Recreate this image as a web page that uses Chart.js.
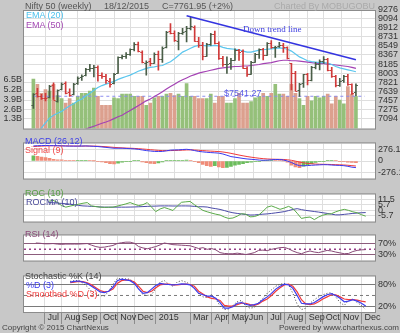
<!DOCTYPE html>
<html>
<head>
<meta charset="utf-8">
<script src="https://cdn.jsdelivr.net/npm/chart.js@4.4.0/dist/chart.umd.min.js"></script>
<style>
  body { margin: 0; background: #c8c8c8; }
  #wrap { position: relative; width: 400px; height: 333px; overflow: hidden; font-family: "Liberation Sans", Arial, sans-serif; }
  canvas { position: absolute; left: 0; }
  .t { position: absolute; font-size: 9px; line-height: 10px; white-space: nowrap; z-index: 5; }
</style>
</head>
<body>
<div id="wrap">
  <canvas id="cMain" width="400" height="137" style="top:0"></canvas>
  <canvas id="cMacd" width="400" height="52" style="top:135px"></canvas>
  <canvas id="cRoc" width="400" height="44" style="top:186px"></canvas>
  <canvas id="cRsi" width="400" height="42" style="top:227px"></canvas>
  <canvas id="cSto" width="400" height="65" style="top:268px"></canvas>

  <div class="t" style="left:25px;top:1px;color:#555">Nifty 50 (weekly)</div>
  <div class="t" style="left:104px;top:1px;color:#555">18/12/2015</div>
  <div class="t" style="left:162px;top:1px;color:#555">C=7761.95 (+2%)</div>
  <div class="t" style="left:274px;top:1px;color:#aaa">Charted By MOBUGOBU</div>
  <div class="t" style="left:26px;top:10px;color:#4cc0ec">EMA (20)</div>
  <div class="t" style="left:26px;top:20px;color:#a348b3">EMA (50)</div>
  <div class="t" style="left:243px;top:24px;color:#4040e0;font-family:'Liberation Serif',serif">Down trend line</div>
  <div class="t" style="left:224px;top:88px;color:#5858e8">$7541.27</div>
  <div class="t" style="left:25px;top:136px;color:#3c3ce8">MACD (26,12)</div>
  <div class="t" style="left:25px;top:145px;color:#f04848">Signal (9)</div>
  <div class="t" style="left:25px;top:188px;color:#5aa048">ROC (10)</div>
  <div class="t" style="left:26px;top:197px;color:#4a4a9a">ROCMA (10)</div>
  <div class="t" style="left:25px;top:229px;color:#8a4a78">RSI (14)</div>
  <div class="t" style="left:25px;top:271px;color:#444">Stochastic %K (14)</div>
  <div class="t" style="left:26px;top:280px;color:#3c3cf0">%D (3)</div>
  <div class="t" style="left:26px;top:289px;color:#f03c3c">Smoothed %D (3)</div>
  <div class="t" style="left:2px;top:323px;color:#444;font-size:8px">Copyright © 2015 ChartNexus</div>
  <div class="t" style="right:1px;top:323px;color:#444;font-size:8px">Powered by www.chartnexus.com</div>
</div>
<script>
// weekly bars, index 0 = week of 2 Jun 2014, index 80 = week of 14 Dec 2015
const opens = [7360,7600,7540,7510,7520,7760,7440,7680,7800,7620,7580,7800,7920,7960,8090,8100,8130,7970,7950,7850,
  7800,8010,8330,8340,8390,8480,8590,8430,8200,8240,8210,8390,8290,8520,8840,8800,8650,8810,8840,8910,
  8930,8650,8570,8350,8590,8790,8600,8300,8190,8200,8270,8460,8440,8110,7990,8230,8380,8490,8370,8610,
  8520,8540,8560,8520,8200,8000,7660,7800,7980,7870,8120,8190,8240,8290,8060,7950,7770,7860,7950,7780,7620];
const highs = [7593,7700,7580,7600,7760,7808,7670,7809,7830,7690,7800,7930,7968,8100,8180,8160,8150,8010,7980,7900,
  8000,8330,8365,8415,8490,8617,8624,8450,8250,8300,8410,8445,8530,8840,8996,8850,8820,8900,8940,9119,
  8950,8720,8620,8600,8800,8845,8630,8340,8330,8300,8490,8480,8470,8130,8240,8400,8490,8500,8615,8655,
  8540,8621,8600,8530,8200,8040,7800,7980,8000,8140,8220,8270,8336,8300,8120,7960,7900,7960,7980,7790,7790];
const lows = [7300,7525,7480,7450,7510,7480,7422,7670,7590,7540,7570,7780,7860,7950,8040,7930,7841,7900,7800,7723,
  7790,8000,8290,8300,8360,8450,8430,8210,7961,8150,8200,8065,8220,8510,8790,8640,8470,8780,8630,8870,
  8640,8520,8270,8340,8560,8590,8280,8140,7997,8080,8260,8260,8100,7940,7980,8220,8300,8270,8360,8500,
  8320,8520,8420,8290,7667,7650,7539,7720,7770,7850,8090,8070,8200,8050,7920,7730,7740,7820,7760,7580,7551];
const closes = [7583,7542,7511,7508,7751,7460,7663,7790,7602,7569,7792,7913,7954,8086,8105,8121,7968,7945,7859,7779,
  7996,8322,8337,8390,8477,8588,8438,8224,8225,8200,8395,8284,8513,8835,8808,8661,8805,8833,8901,8937,
  8647,8570,8342,8586,8780,8606,8305,8181,8191,8263,8458,8434,8114,7983,8225,8381,8485,8361,8610,8521,
  8533,8564,8518,8299,8001,7655,7789,7982,7868,8119,8189,8238,8295,8065,7954,7762,7856,7942,7781,7610,7762];
const volumes = [6.6,5.9,4.7,5.2,5.0,5.9,4.4,4.0,3.4,4.0,3.4,4.3,4.7,4.7,5.0,5.4,4.3,3.1,3.1,3.1,
  4.1,4.0,4.6,4.6,4.6,4.3,4.3,4.3,3.1,3.4,4.1,4.3,4.3,4.6,4.7,4.4,4.6,4.3,6.0,4.3,
  4.3,4.0,4.0,4.0,4.6,3.4,4.3,4.3,3.4,3.4,4.0,4.7,3.4,3.4,3.6,4.1,4.3,4.7,4.3,4.7,
  5.9,4.6,4.6,4.3,5.9,4.7,4.0,3.1,4.3,3.7,4.3,4.1,4.3,4.6,3.3,4.3,3.8,3.3,5.6,4.6,4.3];
const ema20 = [6600,6800,6910,7008,7104,7160,7200,7238,7295,7353,7391,7449,7487,7545,7602,7660,7717,7755,7783,7812,
  7840,7879,7908,7937,7965,8003,8042,8070,8099,8118,8128,8147,8156,8195,8233,8290,8357,8424,8463,8501,
  8539,8558,8558,8549,8549,8558,8549,8520,8501,8491,8482,8472,8444,8424,8424,8444,8463,8472,8482,8491,
  8501,8510,8501,8482,8444,8386,8329,8290,8252,8233,8223,8214,8214,8204,8176,8137,8109,8090,8070,8051,8032];
const ema50 = [null,null,null,null,null,null,null,null,null,null,null,null,6850,6885,6913,6942,6971,7000,7027,7056,
  7094,7132,7161,7209,7257,7304,7352,7400,7449,7487,7535,7583,7630,7688,7736,7783,7831,7870,7908,7946,
  7975,8003,8023,8042,8061,8080,8099,8109,8118,8128,8137,8137,8147,8147,8156,8166,8176,8195,8204,8214,
  8233,8252,8262,8262,8252,8252,8243,8233,8223,8214,8204,8195,8195,8185,8176,8166,8156,8147,8137,8118,8099];
const supportLevel = 7541.27;
const trendX = [38, 80];
const trendY = [9150, 8270];

const macdLine = [355,360,362,365,362,360,358,355,352,350,350,350,352,355,350,345,340,330,320,310,
  300,300,300,295,290,285,275,260,245,235,225,224,225,240,255,260,262,270,275,265,
  245,225,215,205,198,192,185,165,135,104,90,75,60,48,40,32,22,17,20,28,
  35,35,25,0,-35,-80,-110,-112,-108,-100,-95,-90,-86,-88,-95,-100,-104,-110,-125,-145,-155];
const macdSignal = [340,345,350,355,358,360,360,358,356,354,352,351,351,352,352,350,347,342,336,328,
  320,314,309,304,300,296,290,283,275,266,258,250,245,243,245,248,251,255,260,262,
  258,252,245,238,232,227,222,212,198,180,160,140,122,105,90,77,65,55,48,43,
  41,39,36,29,16,-3,-25,-43,-57,-66,-72,-76,-78,-80,-83,-87,-90,-94,-100,-109,-118];
const macdHist = [120,108,95,78,60,40,30,25,15,8,5,6,8,10,8,3,-5,-20,-40,-60,
  -70,-50,-25,-10,-5,5,8,-20,-40,-55,-60,-45,-20,5,10,15,15,18,20,10,
  -10,-40,-80,-110,-125,-110,-140,-155,-150,-130,-100,-80,-60,-40,-25,-15,-10,5,8,10,
  8,5,2,-30,-100,-140,-155,-120,-90,-60,-35,-15,-5,5,10,5,-8,-15,-25,-35,-40];

const roc = [null,null,null,null,null,null,9.5,10.6,8.5,5,3.4,4.5,5.5,6.5,7.5,8.2,4.7,4,3.4,3.2,
  3.3,3.4,4.5,5.6,6.8,8.2,6.5,5,6,8.2,3.5,-1.3,1.5,3,1.5,-0.1,4.5,8.5,9,9.4,
  6,3,0,-1.5,-2.8,-4,-4.9,-7,-8.5,-8,-6.1,-3.5,-4,-6.8,-6.5,-5,-1,3.4,4.7,3,
  1.1,2.5,4.2,2,-3,-8.5,-7.5,-7,-9.7,-7,-5,-4,-3.5,-1.5,0,1.1,0,-1.5,-2.5,-4.5,-6.1];
const rocMa = [null,null,null,null,null,null,8.2,8.0,7.6,7.3,7.0,6.5,6.0,5.2,4.7,4.5,4.2,4.0,3.6,3.4,
  3.4,3.4,3.4,3.4,3.4,3.5,3.6,3.8,4.0,4.2,4.4,4.5,4.7,4.7,4.7,4.6,4.6,4.7,4.7,4.6,
  4.2,3.8,3.8,3.5,2.5,1.8,1.0,-0.2,-1.5,-2.5,-3.2,-3.8,-4.3,-4.9,-4.8,-4.4,-4.0,-3.7,-3.2,-2.6,
  -2.0,-1.3,-0.2,1.0,1.8,0.8,0,-0.6,-1.2,-1.8,-2.5,-3.2,-4.0,-4.7,-4.7,-4.2,-3.7,-3.2,-2.8,-2.5,-2.3];

const rsi = [null,null,null,73,72,70,70,71,69,68,69,69,69,69,70,71,65,60,57,58,
  61,64,71,74,76,76,72,60,55,52,56,60,66,73,70,67,66,65,64,63,
  58,53,56,50,53,48,38,35,34,34,36,34,31,34,38,46,47,45,50,53,
  56,57,52,44,38,34,40,44,40,38,42,46,44,40,37,34,35,42,46,48,49];

const stochK = [null,null,null,null,null,null,null,null,null,null,null,90,92,92,85,75,62,54,50,48,
  62,82,98,97,97,96,86,70,52,50,52,70,88,92,82,76,88,92,88,82,
  70,55,46,44,52,40,20,10,12,22,32,36,20,14,16,30,42,56,66,76,
  82,84,80,56,25,10,14,28,38,46,52,56,58,46,30,22,36,40,30,22,10];
const stochD = [null,null,null,null,null,null,null,null,null,null,null,88,90,91,88,84,76,68,60,58,
  62,74,92,96,94,92,84,68,56,58,68,78,84,82,81,80,81,83,82,80,
  70,56,52,48,48,42,30,14,14,18,28,30,25,22,24,28,38,46,56,68,
  76,82,80,70,50,28,26,26,30,38,46,52,55,50,42,32,34,38,34,28,20];
const stochSD = [null,null,null,null,null,null,null,null,null,null,null,86,88,90,89,86,80,72,64,60,
  62,68,84,92,94,93,88,76,62,58,62,72,80,82,82,80,80,81,82,81,
  76,62,54,46,42,40,36,22,20,20,24,28,28,24,22,26,34,40,50,62,
  72,80,82,76,60,38,26,24,26,32,40,46,52,52,46,40,38,38,37,34,32];

// axis labels
const monthIdx = [5, 9, 13, 18, 22, 26, 31, 39, 44, 48, 52, 57, 61, 66, 70, 74, 79];
const monthLabels = ["Jul","Aug","Sep","Oct","Nov","Dec","2015","Mar","Apr","May","Jun","Jul","Aug","Sep","Oct","Nov","Dec"];
const priceTicks = [9276, 9094, 8912, 8731, 8549, 8367, 8185, 8003, 7821, 7639, 7457, 7275, 7094];
const volTicks = [1.3, 2.6, 3.9, 5.2, 6.5];
const macdTicks = [-276.1, 0, 276.1];
const rocTicks = [-5.7, 0, 5.7, 11.5];
const rsiTicks = [30, 70];
const stochTicks = [20, 80];

const X_MIN = 0.23, X_MAX = 82.17;
const UP = '#4a5e48', DOWN = '#d03a3a';
const VUP = '#95c07a', VDOWN = '#dca08e';
const GRID = '#dedede';

Chart.defaults.font.family = '"Liberation Sans", Arial, sans-serif';
Chart.defaults.font.size = 9;
Chart.defaults.color = '#333';
Chart.defaults.animation = false;
Chart.defaults.events = [];
Chart.defaults.plugins.legend.display = false;
Chart.defaults.plugins.tooltip.enabled = false;

const pts = arr => arr.map((v, i) => ({ x: i, y: v })).filter(p => p.y !== null);
const flat = v => [{ x: X_MIN, y: v }, { x: X_MAX, y: v }];

const panelBg = {
  id: 'panelBg',
  beforeDraw(chart) {
    const { ctx, chartArea: a } = chart;
    ctx.save();
    ctx.fillStyle = '#ffffff';
    ctx.fillRect(a.left, a.top, a.width, a.height);
    ctx.restore();
  },
  afterDraw(chart) {
    const { ctx, chartArea: a } = chart;
    ctx.save();
    ctx.strokeStyle = '#8c8c8c';
    ctx.lineWidth = 1;
    ctx.strokeRect(a.left - 0.5, a.top - 0.5, a.width + 1, a.height + 1);
    ctx.restore();
  }
};

// open tick on the left, close tick on the right of each weekly bar
const ohlcTicks = {
  id: 'ohlcTicks',
  afterDatasetsDraw(chart) {
    const { ctx, chartArea: a, scales } = chart;
    ctx.save();
    ctx.beginPath();
    ctx.rect(a.left, a.top, a.width, a.height);
    ctx.clip();
    ctx.lineWidth = 1;
    closes.forEach((c, i) => {
      const x = scales.x.getPixelForValue(i);
      const yo = Math.round(scales.y.getPixelForValue(opens[i])) + 0.5;
      const yc = Math.round(scales.y.getPixelForValue(c)) + 0.5;
      ctx.strokeStyle = c >= opens[i] ? UP : DOWN;
      ctx.beginPath();
      ctx.moveTo(x - 2, yo); ctx.lineTo(x, yo);
      ctx.moveTo(x, yc); ctx.lineTo(x + 2, yc);
      ctx.stroke();
    });
    ctx.restore();
  }
};

function xAxis(showLabels) {
  return {
    type: 'linear', min: X_MIN, max: X_MAX,
    afterBuildTicks: s => { s.ticks = monthIdx.map(v => ({ value: v })); },
    afterFit: s => { s.height = showLabels ? 21 : 0; },
    grid: { color: GRID, drawTicks: showLabels, tickLength: 12, tickColor: '#8c8c8c' },
    border: { display: false },
    ticks: showLabels
      ? { autoSkip: false, maxRotation: 0, align: 'start', labelOffset: 3, padding: -12, color: '#333',
          callback: (v, i) => monthLabels[i] }
      : { display: false }
  };
}

function rightAxis(min, max, tickVals, fmt, gridColor) {
  return {
    position: 'right', min, max,
    afterBuildTicks: s => { s.ticks = tickVals.map(v => ({ value: v })); },
    afterFit: s => { s.width = 25; },
    grid: { color: gridColor, drawTicks: false },
    border: { display: false },
    ticks: { autoSkip: false, padding: 3, color: '#333', callback: fmt }
  };
}

function line(data, color, extra) {
  return Object.assign({ type: 'line', data, borderColor: color, borderWidth: 1, pointRadius: 0, fill: false, tension: 0 }, extra || {});
}

// price + volume
new Chart(document.getElementById('cMain'), {
  type: 'bar',
  data: {
    datasets: [
      line(flat(supportLevel), '#8c8cf0', { borderDash: [3, 3], order: 4 }),
      line(trendX.map((x, i) => ({ x, y: trendY[i] })), '#3434e0', { borderWidth: 1.6, order: 0 }),
      line(pts(ema20), '#5ac6ee', { borderWidth: 1.2, order: 3 }),
      line(pts(ema50), '#a442b4', { borderWidth: 1.2, order: 3 }),
      {
        type: 'bar', yAxisID: 'y', order: 1, grouped: false, barThickness: 1,
        data: highs.map((h, i) => ({ x: i, y: [lows[i], h] })),
        backgroundColor: c => closes[c.dataIndex] >= opens[c.dataIndex] ? UP : DOWN
      },
      {
        type: 'bar', yAxisID: 'yv', order: 10, grouped: false, barThickness: 3,
        data: pts(volumes),
        backgroundColor: c => closes[c.dataIndex] >= opens[c.dataIndex] ? VUP : VDOWN
      }
    ]
  },
  options: {
    responsive: false,
    layout: { padding: { top: 11, bottom: 3, left: 0, right: 0 } },
    scales: {
      x: xAxis(false),
      y: rightAxis(6894, 9247, priceTicks, v => String(v),
        c => (c.tick && c.tick.value > 9247) ? 'rgba(0,0,0,0)' : GRID),
      yv: {
        position: 'left', min: 0, max: 15.68,
        afterBuildTicks: s => { s.ticks = volTicks.map(v => ({ value: v })); },
        afterFit: s => { s.width = 24; },
        grid: { display: false, drawTicks: false }, border: { display: false },
        ticks: { autoSkip: false, padding: 2, color: '#333', callback: v => v.toFixed(1) + 'B' }
      }
    }
  },
  plugins: [panelBg, ohlcTicks]
});

// MACD
new Chart(document.getElementById('cMacd'), {
  type: 'bar',
  data: {
    datasets: [
      {
        type: 'bar', order: 5, barThickness: 3, data: pts(macdHist),
        backgroundColor: c => (c.dataIndex > 0 && macdHist[c.dataIndex] < macdHist[c.dataIndex - 1]) ? '#f08c78' : '#6cbc5c'
      },
      line(pts(macdSignal), '#f03a3a', { order: 2 }),
      line(pts(macdLine), '#3a3af0', { order: 1 })
    ]
  },
  options: {
    responsive: false,
    layout: { padding: { top: 2, bottom: 2, left: 24, right: 0 } },
    scales: { x: xAxis(false), y: rightAxis(-414, 414, macdTicks, v => String(v), GRID) }
  },
  plugins: [panelBg]
});

// ROC
new Chart(document.getElementById('cRoc'), {
  type: 'line',
  data: {
    datasets: [
      line(pts(rocMa), '#4a4aa8', { order: 2 }),
      line(pts(roc), '#5aaa48', { order: 1 })
    ]
  },
  options: {
    responsive: false,
    layout: { padding: { top: 2, bottom: 2, left: 24, right: 0 } },
    scales: { x: xAxis(false), y: rightAxis(-11.8, 16.8, rocTicks, v => String(v), GRID) }
  },
  plugins: [panelBg]
});

// RSI
new Chart(document.getElementById('cRsi'), {
  type: 'line',
  data: {
    datasets: [
      line(flat(50), '#9a3e8a', { borderDash: [2, 3], borderWidth: 1.5, order: 3 }),
      line(pts(rsi), '#8a4a78', { order: 1 })
    ]
  },
  options: {
    responsive: false,
    layout: { padding: { top: 2, bottom: 2, left: 24, right: 0 } },
    scales: { x: xAxis(false), y: rightAxis(9, 100.6, rsiTicks, v => v + '%', '#8c5c7c') }
  },
  plugins: [panelBg]
});

// Stochastic
new Chart(document.getElementById('cSto'), {
  type: 'line',
  data: {
    datasets: [
      line(flat(50), '#7a7a7a', { borderDash: [3, 3], order: 4 }),
      line(pts(stochK), '#444444', { borderDash: [1, 2], order: 3 }),
      line(pts(stochSD), '#f03c3c', { borderWidth: 1.2, order: 2 }),
      line(pts(stochD), '#3c3cf0', { borderWidth: 1.2, order: 1 })
    ]
  },
  options: {
    responsive: false,
    layout: { padding: { top: 2, bottom: 0, left: 24, right: 0 } },
    scales: { x: xAxis(true), y: rightAxis(3.2, 104, stochTicks, v => v + '%', '#7a7a7a') }
  },
  plugins: [panelBg]
});
</script>
</body>
</html>
